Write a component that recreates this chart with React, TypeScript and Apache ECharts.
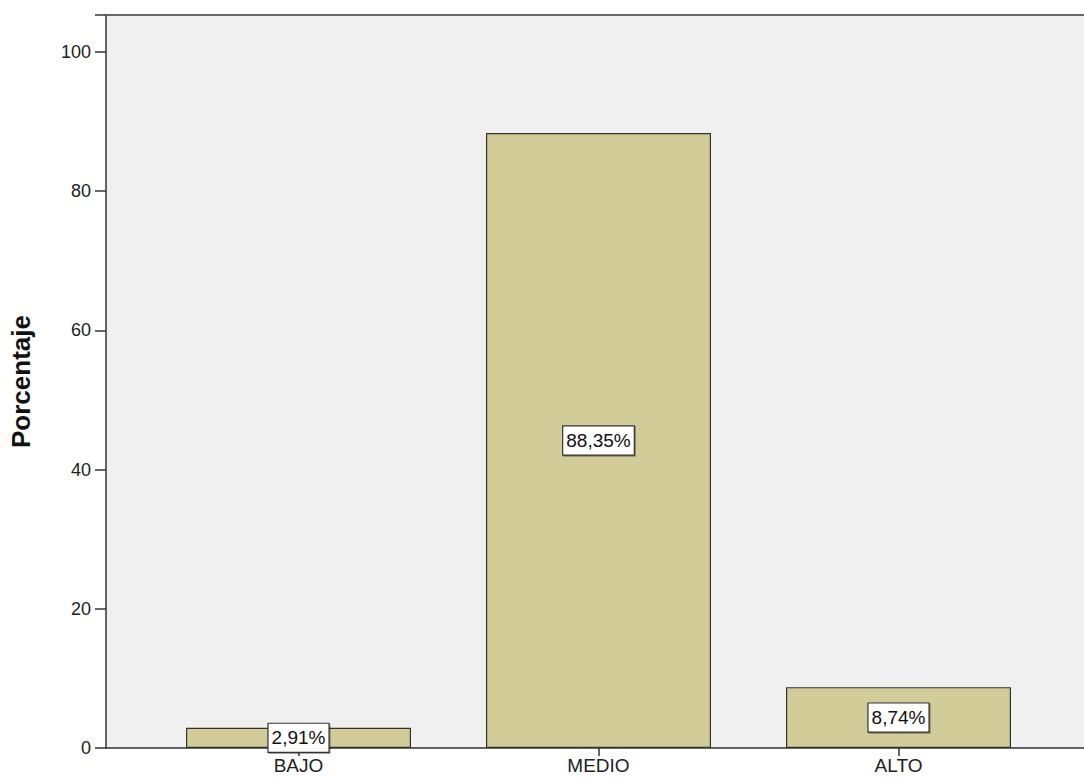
import React, { useEffect, useRef } from "react";
import * as echarts from "echarts";

const categories = ["BAJO", "MEDIO", "ALTO"];
const percentages = [2.91, 88.35, 8.74];
const yTicks = [0, 20, 40, 60, 80, 100];
const yMax = 105.3;

const FONT = "'Liberation Sans', Arial, sans-serif";

export default function App() {
  const ref = useRef<HTMLDivElement>(null);
  useEffect(() => {
    if (!ref.current) return;
    const chart = echarts.init(ref.current, undefined, { renderer: "svg" });
    chart.setOption({
      animation: false,
      backgroundColor: "#ffffff",
      grid: [
        { left: 98, top: 15, right: -20, bottom: 34, show: true, backgroundColor: "#f0f0f0", borderWidth: 0 },
        { left: 148.5, top: 15, width: 900, bottom: 34, show: false },
      ],
      xAxis: [
        {
          type: "value", gridIndex: 0, min: 0, max: 1, position: "bottom",
          axisLine: { show: true, lineStyle: { color: "#333", width: 1.5 } },
          axisTick: { show: false }, axisLabel: { show: false }, splitLine: { show: false },
        },
        {
          type: "value", gridIndex: 0, min: 0, max: 1, position: "top",
          axisLine: { show: true, lineStyle: { color: "#666", width: 2 } },
          axisTick: { show: false }, axisLabel: { show: false }, splitLine: { show: false },
        },
        {
          type: "category", gridIndex: 1, data: categories,
          axisLine: { show: false },
          axisTick: { show: true, alignWithLabel: true, length: 8, lineStyle: { color: "#333", width: 1.5 } },
          axisLabel: { fontFamily: FONT, fontSize: 19, color: "#222", margin: 8 },
        },
      ],
      yAxis: [
        {
          type: "value", gridIndex: 0, min: 0, max: yMax, interval: 20,
          axisLine: { show: true, lineStyle: { color: "#333", width: 1.5 } },
          axisTick: { show: true, inside: false, length: 11, lineStyle: { color: "#333", width: 1.5 } },
          axisLabel: {
            fontFamily: FONT, fontSize: 18, color: "#222", margin: 15,
            formatter: (v: number) => (yTicks.includes(v) ? String(v) : ""),
          },
          splitLine: { show: false },
          name: "Porcentaje", nameLocation: "middle", nameGap: 72,
          nameTextStyle: { fontFamily: FONT, fontSize: 26, fontWeight: "bold", color: "#111" },
        },
        {
          type: "value", gridIndex: 1, min: 0, max: yMax, show: false,
        },
      ],
      series: [
        {
          type: "bar", xAxisIndex: 2, yAxisIndex: 1, data: percentages, barWidth: "75%",
          itemStyle: { color: "#d2cd98", borderColor: "#333", borderWidth: 1.2 },
          label: {
            show: true, position: "inside", fontFamily: FONT, fontSize: 19, color: "#111",
            formatter: (p: any) => p.value.toFixed(2).replace(".", ",") + "%",
            backgroundColor: "#ffffff", borderColor: "#333", borderWidth: 1.2,
            padding: [5, 3, 4, 3],
            shadowColor: "rgba(0,0,0,0.35)", shadowOffsetX: 1, shadowOffsetY: 1, shadowBlur: 1,
          },
        },
      ],
    });
    return () => chart.dispose();
  }, []);
  return (
    <div
      ref={ref}
      style={{ position: "fixed", left: 0, top: 0, width: 1084, height: 782 }}
    />
  );
}
